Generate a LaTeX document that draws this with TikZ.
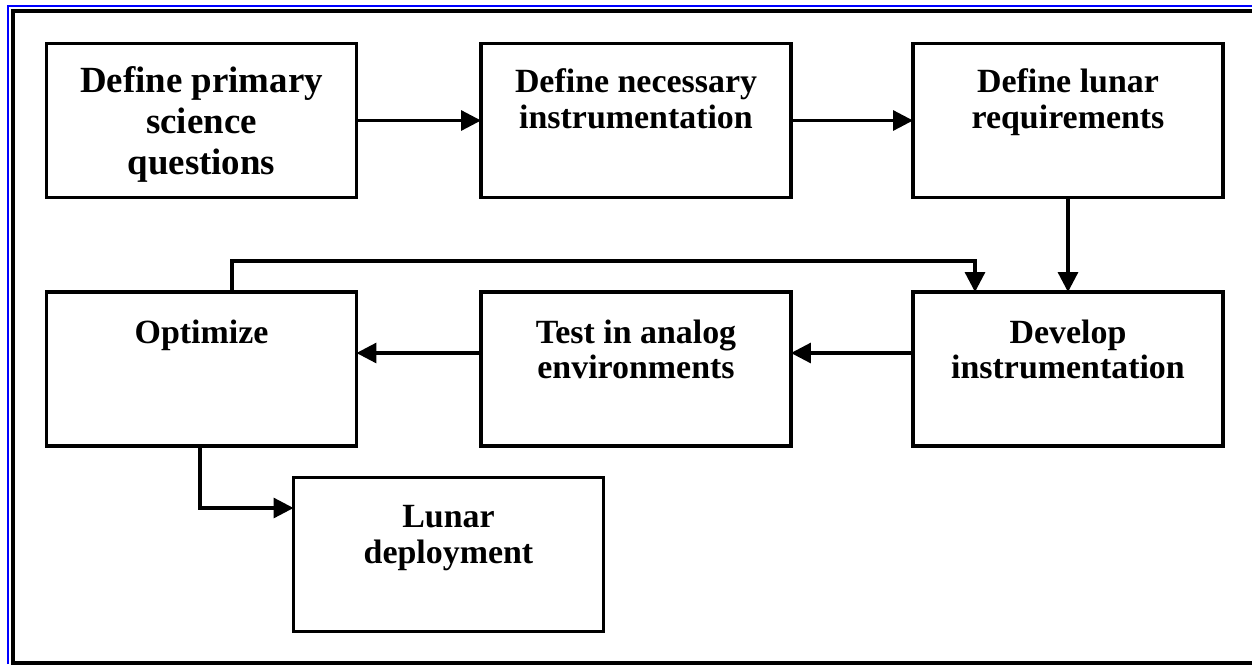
\documentclass[tikz,border=0pt]{standalone}
\usepackage{fontspec}
\setmainfont{Liberation Serif}
\usetikzlibrary{arrows.meta}

% box contents sit near the top edge
\newcommand{\boxlines}[2][0.55cm]{\parbox[c][3.08cm][t]{6.2cm}{\centering\vspace*{#1}#2}}

\tikzset{
  blk/.style={draw, line width=2pt, inner sep=0pt, outer sep=0pt,
    minimum width=6.2cm, minimum height=3.08cm,
    font=\bfseries\fontsize{19.3}{20.4}\selectfont},
  bigblk/.style={blk, font=\bfseries\fontsize{21}{23.4}\selectfont},
  arr/.style={line width=1.8pt, -{Triangle[length=0.4cm,width=0.4cm]}}
}

\begin{document}
\begin{tikzpicture}
           [x=0.02cm,y=-0.02cm]
           \useasboundingbox (0,0) rectangle (1252,664);

           % frame
           \draw[blue,line width=1.4pt] (8,664) -- (8,6) -- (1252,6);
           \draw[line width=1.8pt] (1252,663) -- (13,663) -- (13,11) -- (1252,11);

           % first row
           \node[bigblk] (sci) at (201.5,120.5) {\boxlines[0.46cm]{Define primary\\science\\questions}};
           \node[blk] (instr) at (636,120.5) {\boxlines[0.5cm]{Define necessary\\instrumentation}};
           \node[blk] (req) at (1068,120.5) {\boxlines[0.5cm]{Define lunar\\requirements}};

           % second row
           \node[blk] (opt) at (201.5,369) {\boxlines{Optimize}};
           \node[blk] (test) at (636,369) {\boxlines{Test in analog\\environments}};
           \node[blk] (dev) at (1068,369) {\boxlines{Develop\\instrumentation}};

           \node[blk] (dep) at (448.5,554.5) {\boxlines{Lunar\\deployment}};

           \draw[arr] (sci.east) -- (instr.west);
           \draw[arr] (instr.east) -- (req.west);
           \draw[arr] (req.south) -- (dev.north);

           % loop back from optimize
           \coordinate (fbl) at (232,261);
           \coordinate (fbr) at (975,261);
           \draw[arr] (opt.north -| fbl) -- (fbl) -- (fbr) -- (fbr |- dev.north);

           \draw[arr] ([yshift=0.32cm]dev.west) -- ([yshift=0.32cm]test.east);
           \draw[arr] ([yshift=0.32cm]test.west) -- ([yshift=0.32cm]opt.east);

           \coordinate (dp) at (200,508);
           \draw[arr] (opt.south -| dp) -- (dp) -- (dp -| dep.west);
         \end{tikzpicture}
\end{document}
